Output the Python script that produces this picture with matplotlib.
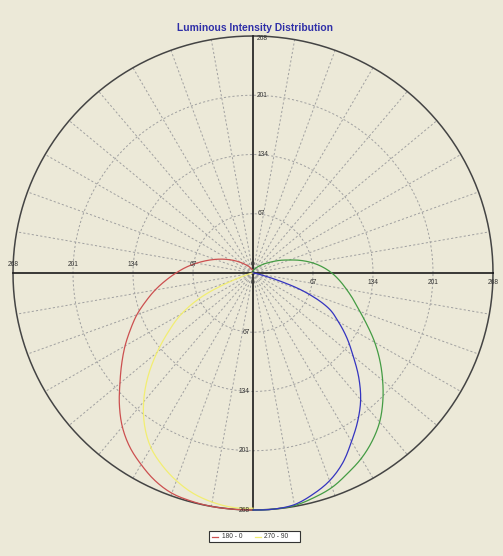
import numpy as np
import matplotlib
matplotlib.use("Agg")
import matplotlib.pyplot as plt
from matplotlib.lines import Line2D
from matplotlib.patches import Rectangle

# ---------------- data ----------------
title = "Luminous Intensity Distribution"
rings = [67, 134, 201, 268]
tick_labels = ["0", "67", "134", "201", "268"]
tick_values = [0, 67, 134, 201, 268]
legend_labels = ["180 - 0", "270 - 90"]

angles = list(range(0, 181, 5))  # gamma angle from nadir, degrees
c180 = [268, 268, 268, 267, 265, 259, 250, 240, 227, 211, 194, 179, 165, 151, 138, 124,
        111, 98, 86, 75, 64, 54, 45, 37, 30, 24, 19, 15, 12, 10, 8, 6, 5, 4, 3, 3, 3]
c0 = [268, 268, 267, 263, 258, 250, 242, 232, 220, 205, 189, 173, 157, 141, 127, 116,
      106, 97, 88, 78, 67, 55, 43, 34, 26, 20, 16, 12, 10, 8, 7, 5, 4, 3, 3, 2, 2]
c270 = [266, 266, 263, 258, 250, 240, 228, 211, 190, 166, 140, 115, 92, 62, 22, 6,
        2, 1, 0, 0, 0, 0, 0, 0, 0, 0, 0, 0, 0, 0, 0, 0, 0, 0, 0, 0, 0]
c90 = [268, 268, 266, 259, 250, 237, 220, 204, 187, 167, 146, 128, 110, 92, 60, 18,
       4, 1, 0, 0, 0, 0, 0, 0, 0, 0, 0, 0, 0, 0, 0, 0, 0, 0, 0, 0, 0]

# ---------------- figure ----------------
BG = "#ECE9D8"
W, H = 503, 556
fig = plt.figure(figsize=(W / 100, H / 100), dpi=100, facecolor=BG)
ax = fig.add_axes([13 / W, 46 / H, 480 / W, 474 / H])
ax.set_facecolor(BG)
rmax = rings[-1]
ax.set_xlim(-rmax, rmax)
ax.set_ylim(-rmax, rmax)
ax.axis("off")

grid_kw = dict(color="#a0a0a0", lw=0.7, ls=(0, (2.2, 2.2)), zorder=1)
t = np.linspace(0, 2 * np.pi, 721)
for r in rings[:-1]:
    ax.plot(r * np.cos(t), r * np.sin(t), **grid_kw)
for a in range(0, 360, 10):
    if a % 90 == 0:
        continue
    ar = np.deg2rad(a)
    ax.plot([0, rmax * np.cos(ar)], [0, rmax * np.sin(ar)], **grid_kw)

ax.plot(rmax * np.cos(t), rmax * np.sin(t), color="#444444", lw=1.1, zorder=2, clip_on=False)
ax.plot([-rmax, rmax], [0, 0], color="#1a1a1a", lw=1.2, zorder=3, clip_on=False)
ax.plot([0, 0], [-rmax, rmax], color="#1a1a1a", lw=1.2, zorder=3, clip_on=False)


def smooth_curve(vals, n=8):
    """Catmull-Rom rendering of r(gamma) through the read values (drawing only)."""
    a = np.array(angles, dtype=float)
    v = np.array(vals, dtype=float)
    pa = np.concatenate([[2 * a[0] - a[1]], a, [2 * a[-1] - a[-2]]])
    pv = np.concatenate([[v[1]], v, [v[-1]]])
    out_a, out_v = [], []
    s = np.linspace(0, 1, n, endpoint=False)
    for i in range(1, len(pa) - 2):
        p0, p1, p2, p3 = pv[i - 1], pv[i], pv[i + 1], pv[i + 2]
        seg = 0.5 * (2 * p1 + (-p0 + p2) * s + (2 * p0 - 5 * p1 + 4 * p2 - p3) * s ** 2
                     + (-p0 + 3 * p1 - 3 * p2 + p3) * s ** 3)
        out_a.extend(pa[i] + (pa[i + 1] - pa[i]) * s)
        out_v.extend(seg)
    out_a.append(a[-1])
    out_v.append(v[-1])
    return np.deg2rad(np.array(out_a)), np.clip(np.array(out_v), 0, None)


def draw(vals, side, color):
    g, v = smooth_curve(vals)
    ax.plot(side * v * np.sin(g), -v * np.cos(g), color=color, lw=0.9, zorder=4, clip_on=False)


draw(c180, -1, "#CC5050")
draw(c0, 1, "#449C44")
draw(c270, -1, "#F2EE72")
draw(c90, 1, "#3434C0")

lab_kw = dict(fontsize=4.8, color="#333333", family="Liberation Sans", zorder=5,
              textcoords="offset points")
for lab, v in zip(tick_labels, tick_values):
    ax.annotate(lab, xy=(-v, 0), xytext=(0, 5.8), ha="center", va="center", **lab_kw)
    ax.annotate(lab, xy=(v, 0), xytext=(0, -7.2), ha="center", va="center", **lab_kw)
    if v == 0:
        continue
    ax.annotate(lab, xy=(0, v), xytext=(3, -2 if v == rmax else 0), ha="left", va="center", **lab_kw)
    ax.annotate(lab, xy=(0, -v), xytext=(-2.2, 0), ha="right", va="center", **lab_kw)

fig.text(255 / W, 1 - 28 / H, title, ha="center", va="center", fontsize=7.4,
         fontweight="bold", color="#2F2FA8", family="Liberation Sans")

# legend box
lx0, lx1, ly0, ly1 = 209, 300, 531, 542
fig.add_artist(Rectangle((lx0 / W, 1 - ly1 / H), (lx1 - lx0) / W, (ly1 - ly0) / H,
                         transform=fig.transFigure, facecolor="white", edgecolor="#333333", lw=0.8))
ym = 1 - 536.5 / H
for (xs, xt), lab, col in zip([(212, 222), (255, 264)], legend_labels, ["#CC5050", "#F2EE72"]):
    fig.add_artist(Line2D([xs / W, (xs + 6) / W], [ym, ym], transform=fig.transFigure, color=col, lw=0.9))
    fig.text(xt / W, ym, lab, ha="left", va="center", fontsize=4.8, color="#333333", family="Liberation Sans")

fig.savefig("out.png", dpi=100, facecolor=BG)
